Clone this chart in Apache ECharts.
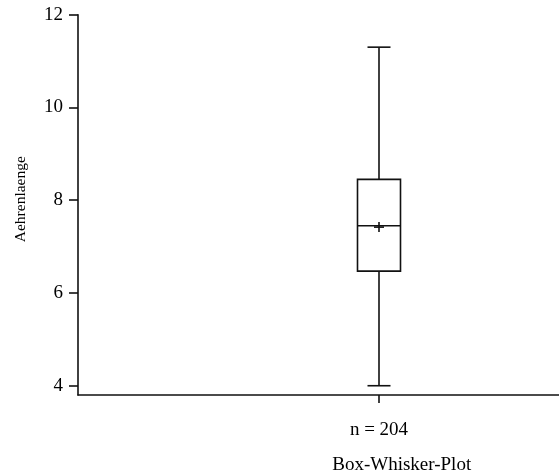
<!DOCTYPE html>
<html>
<head>
<meta charset="utf-8">
<script src="https://cdn.jsdelivr.net/npm/echarts@6/dist/echarts.min.js"></script>
<style>
  html, body { margin: 0; padding: 0; background: #fff; }
  #chart { width: 559px; height: 473px; }
</style>
</head>
<body>
<div id="chart"></div>
<script>
// Ear length sample: five-number summary plus mean
const categories = ['n = 204'];
const whiskerLow = [4.0];
const quartile1 = [6.47];
const median = [7.45];
const quartile3 = [8.45];
const whiskerHigh = [11.3];
const mean = [7.42];
const yTicks = [4, 6, 8, 10, 12];

const FONT = 'Liberation Serif';
const INK = '#111';
const LINE_W = 1.6;
const BOX_WIDTH = 43;
const CAP_WIDTH = 23;
const MEAN_SIZE = 10;

const boxData = categories.map((c, i) => [
  i, whiskerLow[i], quartile1[i], median[i], quartile3[i], whiskerHigh[i], mean[i]
]);

function renderBox(params, api) {
  const i = api.value(0);
  const pLo = api.coord([i, api.value(1)]);
  const pQ1 = api.coord([i, api.value(2)]);
  const pMed = api.coord([i, api.value(3)]);
  const pQ3 = api.coord([i, api.value(4)]);
  const pHi = api.coord([i, api.value(5)]);
  const pMean = api.coord([i, api.value(6)]);
  const cx = pMed[0];
  const hb = BOX_WIDTH / 2, hc = CAP_WIDTH / 2, hm = MEAN_SIZE / 2;
  const line = { stroke: INK, lineWidth: LINE_W, fill: null };
  const seg = (x1, y1, x2, y2) => ({
    type: 'line', shape: { x1, y1, x2, y2 }, style: line
  });
  return {
    type: 'group',
    children: [
      seg(cx, pHi[1], cx, pQ3[1]),
      seg(cx - hc, pHi[1], cx + hc, pHi[1]),
      seg(cx, pQ1[1], cx, pLo[1]),
      seg(cx - hc, pLo[1], cx + hc, pLo[1]),
      {
        type: 'rect',
        shape: { x: cx - hb, y: pQ3[1], width: BOX_WIDTH, height: pQ1[1] - pQ3[1] },
        style: line
      },
      seg(cx - hb, pMed[1], cx + hb, pMed[1]),
      seg(cx - hm, pMean[1], cx + hm, pMean[1]),
      seg(cx, pMean[1] - hm, cx, pMean[1] + hm)
    ]
  };
}

const chart = echarts.init(document.getElementById('chart'), null, { renderer: 'canvas' });
chart.setOption({
  animation: false,
  backgroundColor: '#fff',
  textStyle: { fontFamily: FONT },
  // the category band runs past the right edge of the canvas
  grid: { left: 78, top: 14.7, width: 602, bottom: 78, outerBoundsMode: 'none', containLabel: false },
  xAxis: {
    type: 'category',
    data: categories,
    boundaryGap: true,
    axisLine: { lineStyle: { color: INK, width: LINE_W } },
    axisTick: { show: true, alignWithLabel: true, length: 8, lineStyle: { color: INK, width: LINE_W } },
    axisLabel: { margin: 26, color: '#000', fontFamily: FONT, fontSize: 19 },
    splitLine: { show: false }
  },
  yAxis: {
    type: 'value',
    min: 3.8,
    max: 12,
    axisLine: { show: true, lineStyle: { color: INK, width: LINE_W } },
    axisTick: { show: true, length: 9, customValues: yTicks, lineStyle: { color: INK, width: LINE_W } },
    axisLabel: { margin: 15, customValues: yTicks, color: '#000', fontFamily: FONT, fontSize: 19 },
    splitLine: { show: false }
  },
  graphic: [
    {
      type: 'text',
      x: 20.8, y: 199.2,
      rotation: Math.PI / 2,
      style: {
        text: 'Aehrenlaenge',
        fontFamily: FONT, fontSize: 15.5, fill: '#000',
        textAlign: 'center', textVerticalAlign: 'middle'
      }
    },
    {
      type: 'text',
      x: 401.7, y: 465.5,
      style: {
        text: 'Box-Whisker-Plot',
        fontFamily: FONT, fontSize: 19, fill: '#000',
        textAlign: 'center', textVerticalAlign: 'middle'
      }
    }
  ],
  series: [{
    type: 'custom',
    renderItem: renderBox,
    encode: { x: 0, y: [1, 2, 3, 4, 5, 6] },
    data: boxData,
    clip: false
  }]
});
</script>
</body>
</html>
